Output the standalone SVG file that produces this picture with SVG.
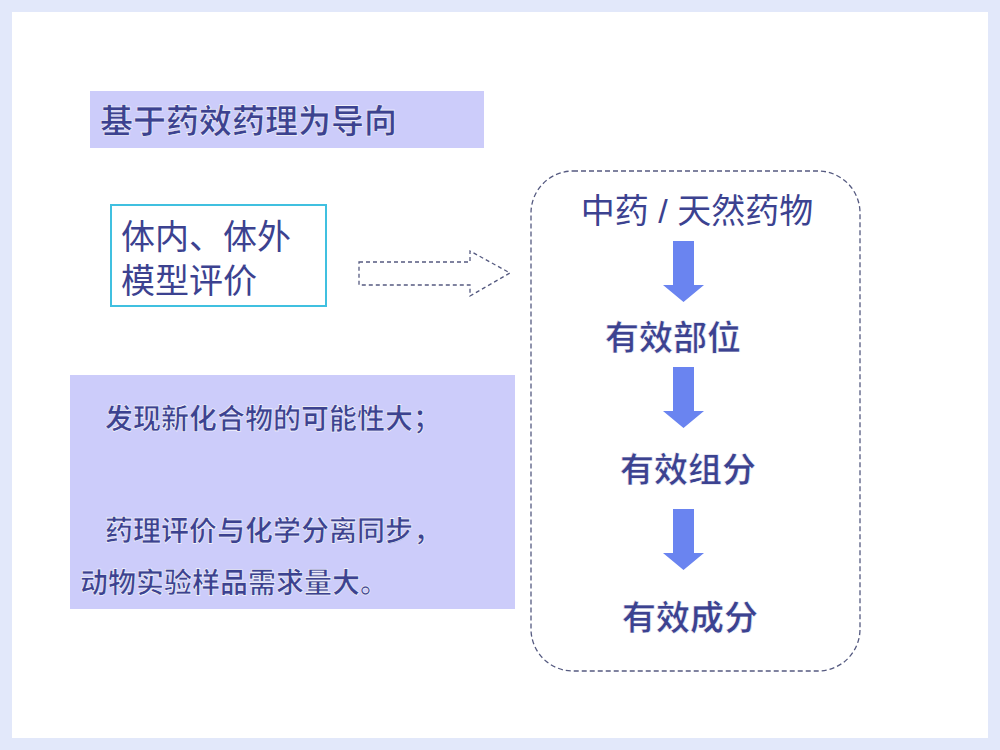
<svg xmlns="http://www.w3.org/2000/svg" width="1000" height="750" viewBox="0 0 1000 750">
<style>
.t{font-family:"Liberation Sans","Noto Sans CJK SC",sans-serif;fill:#3c4290}
.b{font-weight:bold;stroke:#ffffff;stroke-width:0.6;paint-order:normal}
.dn{fill:#6a84f0}
</style>
<defs><polygon id="da" points="673,0 694,0 694,44 704,44 683.5,61 663,44 673,44"/></defs>
<rect width="1000" height="750" fill="#e2e8fa"/>
<rect x="12" y="12" width="976" height="726" fill="#ffffff"/>
<g id="title"><rect x="90" y="91" width="394" height="57" fill="#ccccfa"/>
<text class="t b" x="100" y="133" font-size="33">基于药效药理为导向</text></g>
<g id="model"><rect x="111" y="205" width="215" height="101" fill="#fff" stroke="#40c0e0" stroke-width="2"/>
<text class="t" x="121" y="249" font-size="34">体内、体外</text>
<text class="t" x="121" y="293" font-size="34">模型评价</text></g>
<g id="note"><rect x="70" y="375" width="445" height="234" fill="#ccccfa"/>
<text class="t b" x="105" y="429" font-size="28">发现新化合物的可能性大；</text>
<text class="t b" x="105" y="541" font-size="28">药理评价与化学分离同步，</text>
<text class="t b" x="80" y="593" font-size="28">动物实验样品需求量大。</text></g>
<g id="flow"><rect x="531" y="171" width="329" height="500" rx="42" fill="none" stroke="#555a80" stroke-width="1.3" stroke-dasharray="5,3"/>
<text class="t" x="697" y="223" font-size="34" text-anchor="middle">中药 / 天然药物</text>
<text class="t b" x="673" y="350" font-size="34" text-anchor="middle">有效部位</text>
<text class="t b" x="688" y="482" font-size="34" text-anchor="middle">有效组分</text>
<text class="t b" x="690" y="630" font-size="34" text-anchor="middle">有效成分</text></g>
<g id="connectors">
<polygon points="359,262 470,262 470,251 510,273 470,296 470,285 359,285" fill="none" stroke="#555a80" stroke-width="1.3" stroke-dasharray="4,3"/>
<use href="#da" class="dn" y="241"/>
<use href="#da" class="dn" y="367"/>
<use href="#da" class="dn" y="509"/>
</g>
</svg>
